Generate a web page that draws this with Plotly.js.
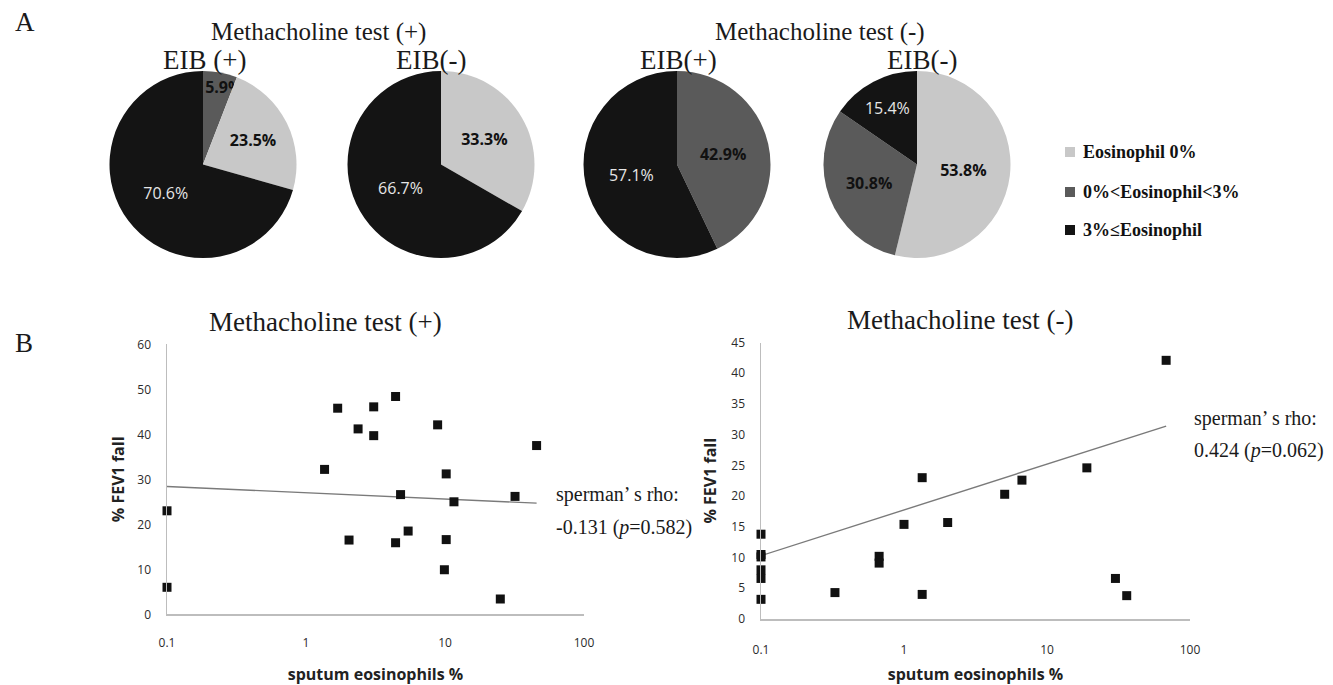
<!DOCTYPE html>
<html>
<head>
<meta charset="utf-8">
<script src="https://cdn.plot.ly/plotly-3.0.1.min.js"></script>
<style>html,body{margin:0;padding:0;background:#fff;}#chart{width:1333px;height:685px;}</style>
</head>
<body>
<div id="chart"></div>
<script>
// ---------- DATA ----------
const legendLabels = ["Eosinophil 0%", "0%<Eosinophil<3%", "3%\u2264Eosinophil"];
const groupColors = ["#c8c8c8", "#5a5a5a", "#141414"];

// Panel A pies (slice order clockwise from 12 o'clock)
const pieTitles = ["EIB (+)", "EIB(-)", "EIB(+)", "EIB(-)"];
const pieGroupTitles = ["Methacholine test (+)", "Methacholine test (-)"];
const pie1Groups = [1, 0, 2];            // indexes into legendLabels
const pie1Values = [5.9, 23.5, 70.6];
const pie2Groups = [0, 2];
const pie2Values = [33.3, 66.7];
const pie3Groups = [1, 2];
const pie3Values = [42.9, 57.1];
const pie4Groups = [0, 1, 2];
const pie4Values = [53.8, 30.8, 15.4];

// Panel B scatter: Methacholine test (+)
const mtPosEos = [0.1, 0.1, 1.36, 1.69, 2.04, 2.37, 3.07, 3.07, 4.41, 4.41, 4.79, 5.43, 8.85, 9.9, 10.2, 10.2, 11.6, 25.0, 31.9, 45.6];
const mtPosFev = [23.0, 6.0, 32.2, 45.8, 16.5, 41.2, 46.1, 39.7, 48.4, 15.9, 26.6, 18.5, 42.1, 9.9, 31.2, 16.6, 25.0, 3.4, 26.2, 37.5];
const mtPosTrendX = [0.1, 45.6];
const mtPosTrendY = [28.4, 24.7];
const mtPosStats = ["sperman\u2019 s rho:", "-0.131 (<i>p</i>=0.582)"];

// Panel B scatter: Methacholine test (-)
const mtNegEos = [0.1, 0.1, 0.1, 0.1, 0.1, 0.1, 0.329, 0.67, 0.67, 1.0, 1.34, 1.34, 2.02, 5.06, 6.68, 19.0, 30.1, 36.1, 68.1];
const mtNegFev = [13.8, 10.5, 10.1, 8.0, 6.6, 3.2, 4.3, 10.2, 9.1, 15.4, 23.0, 4.0, 15.7, 20.3, 22.6, 24.6, 6.6, 3.8, 42.1];
const mtNegTrendX = [0.1, 68.1];
const mtNegTrendY = [10.3, 31.4];
const mtNegStats = ["sperman\u2019 s rho:", "0.424 (<i>p</i>=0.062)"];

const xTickVals = [0.1, 1, 10, 100];
const xTickText = ["0.1", "1", "10", "100"];
const xTitle = "sputum eosinophils %";
const yTitle = "% FEV1 fall";

// ---------- LAYOUT HELPERS ----------
const W = 1333, H = 685;
const fx = x => x / W;
const fy = y => 1 - y / H;

const serif = "Liberation Serif, Times New Roman, serif";
const sans = "Open Sans, Noto Sans, sans-serif";

function pieTrace(groups, values, cx) {
  const labels = groups.map(g => legendLabels[g]);
  const colors = groups.map(g => groupColors[g]);
  const text = values.map((v, i) => {
    const s = v.toFixed(1) + "%";
    if (groups[i] === 2) return s;
    // the tiny first slice label sits slightly right of its wedge, as in the reference
    return (v < 10 ? "\u00a0\u00a0\u00a0" : "") + "<b>" + s + "</b>";
  });
  const tcol = groups.map(g => g === 2 ? "#e6e6e6" : "#111111");
  return {
    type: "pie", labels: labels, values: values, text: text,
    textinfo: "text", textposition: "inside", insidetextorientation: "horizontal",
    sort: false, direction: "clockwise", rotation: 0,
    marker: {colors: colors, line: {width: 0}},
    textfont: {family: sans, size: 16, color: tcol},
    domain: {x: [fx(cx - 107), fx(cx + 107)], y: [fy(258), fy(71)]},
    showlegend: false, hoverinfo: "label+percent"
  };
}

const pieCenters = [203, 441, 677, 917];

const data = [
  pieTrace(pie1Groups, pie1Values, pieCenters[0]),
  pieTrace(pie2Groups, pie2Values, pieCenters[1]),
  pieTrace(pie3Groups, pie3Values, pieCenters[2]),
  pieTrace(pie4Groups, pie4Values, pieCenters[3]),
  {type: "scatter", mode: "lines", x: mtPosTrendX, y: mtPosTrendY, xaxis: "x", yaxis: "y",
   line: {color: "#7a7a7a", width: 1.4}, showlegend: false, hoverinfo: "skip"},
  {type: "scatter", mode: "markers", x: mtPosEos, y: mtPosFev, xaxis: "x", yaxis: "y",
   marker: {symbol: "square", size: 9, color: "#111111"}, cliponaxis: false, showlegend: false},
  {type: "scatter", mode: "lines", x: mtNegTrendX, y: mtNegTrendY, xaxis: "x2", yaxis: "y2",
   line: {color: "#7a7a7a", width: 1.4}, showlegend: false, hoverinfo: "skip"},
  {type: "scatter", mode: "markers", x: mtNegEos, y: mtNegFev, xaxis: "x2", yaxis: "y2",
   marker: {symbol: "square", size: 9, color: "#111111"}, cliponaxis: false, showlegend: false}
];

function xAxis(d, anchor, standoff, titleStandoff) {
  return {
    type: "log", range: [-1, 2], domain: d, anchor: anchor,
    showline: true, linecolor: "#bdbdbd", linewidth: 1.5, showgrid: false, zeroline: false,
    ticks: "", tickvals: xTickVals, ticktext: xTickText, ticklabelstandoff: standoff,
    tickfont: {family: sans, size: 12, color: "#2b2b2b"},
    title: {text: "<b>" + xTitle + "</b>", font: {family: sans, size: 16, color: "#222"}, standoff: titleStandoff},
    fixedrange: true
  };
}
function yAxis(d, anchor, maxv, dt, titleStandoff) {
  return {
    range: [0, maxv], domain: d, anchor: anchor, dtick: dt,
    showline: true, linecolor: "#bdbdbd", linewidth: 1.5, showgrid: false, zeroline: false,
    ticks: "", ticklabelstandoff: 12,
    tickfont: {family: sans, size: 12, color: "#2b2b2b"},
    title: {text: "<b>" + yTitle + "</b>", font: {family: sans, size: 16, color: "#222"}, standoff: titleStandoff},
    fixedrange: true
  };
}

const annotations = [];
function addText(text, x, y, size, opts) {
  annotations.push(Object.assign({
    text: text, x: fx(x), y: fy(y), xref: "paper", yref: "paper",
    xanchor: "center", yanchor: "middle", showarrow: false,
    font: {family: serif, size: size, color: "#1a1a1a"}
  }, opts || {}));
}
addText("A", 13, 22, 27, {xanchor: "left"});
addText("B", 13, 343, 27, {xanchor: "left"});
addText(pieGroupTitles[0], 318, 32, 25);
addText(pieGroupTitles[1], 820, 32, 25);
const eibX = [204, 431, 678, 922];
pieTitles.forEach((t, i) => addText(t, eibX[i], 60, 27));
addText("Methacholine test (+)", 325, 322, 27);
addText("Methacholine test (-)", 960, 320, 27);
addText(mtPosStats[0], 554, 494, 20, {xanchor: "left"});
addText(mtPosStats[1], 554, 527, 20, {xanchor: "left"});
addText(mtNegStats[0], 1192, 418, 20, {xanchor: "left"});
addText(mtNegStats[1], 1192, 450, 20, {xanchor: "left"});

const legendRows = [152, 192, 230];
const shapes = [];
legendLabels.forEach((lab, i) => {
  addText("<b>" + lab.replace(/</g, "&lt;") + "</b>", 1081, legendRows[i], 18, {xanchor: "left", font: {family: serif, size: 18, color: "#111"}});
  shapes.push({type: "rect", xref: "paper", yref: "paper",
    x0: fx(1065), x1: fx(1075), y0: fy(legendRows[i] + 5), y1: fy(legendRows[i] - 5),
    fillcolor: groupColors[i], line: {width: 0}});
});

const layout = {
  width: W, height: H, margin: {l: 0, r: 0, t: 0, b: 0},
  paper_bgcolor: "#ffffff", plot_bgcolor: "#ffffff",
  showlegend: false,
  uniformtext: {mode: "show", minsize: 16},
  xaxis: xAxis([fx(167), fx(584)], "y", 17, 20),
  yaxis: yAxis([fy(614.3), fy(344.3)], "x", 60, 10, 9),
  xaxis2: xAxis([fx(761), fx(1190)], "y2", 19, 21),
  yaxis2: yAxis([fy(619), fy(342.5)], "x2", 45, 5, 11),
  annotations: annotations,
  shapes: shapes
};

Plotly.newPlot("chart", data, layout, {displayModeBar: false, staticPlot: true});
</script>
</body>
</html>
